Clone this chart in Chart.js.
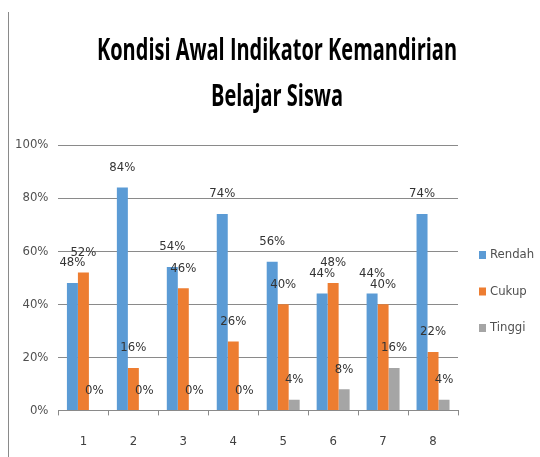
<!DOCTYPE html>
<html lang="en">
<head>
    <meta charset="UTF-8">
    <title>Kondisi Awal Indikator Kemandirian Belajar Siswa</title>
    <script src="https://cdn.jsdelivr.net/npm/chart.js"></script>
    <style>
        body {
          margin: 0;
          background: #ffffff;
        }
        .chartBox {
          position: relative;
          width: 540px;
          height: 457px;
        }
        .frame {
          position: absolute;
          left: 8px;
          top: 12px;
          bottom: 0;
          border-left: 1px solid #8a8a8a;
        }
    </style>
</head>
<body>
    <div class="chartBox">
        <div class="frame"></div>
        <canvas id="kemandirianChart"></canvas>
    </div>
    <script>
        // Data
        const categories = ['1', '2', '3', '4', '5', '6', '7', '8'];
        const rendah = [48, 84, 54, 74, 56, 44, 44, 74];
        const cukup  = [52, 16, 46, 26, 40, 48, 40, 22];
        const tinggi = [0, 0, 0, 0, 4, 8, 16, 4];
        const yTicks = [0, 20, 40, 60, 80, 100];
        const titleLines = ['Kondisi Awal Indikator Kemandirian', 'Belajar Siswa'];

        const narrow = "'Liberation Sans Narrow', 'DejaVu Sans Condensed', sans-serif";

        // Percentage label above every bar (Excel "outside end" style)
        const barLabels = {
            id: 'barLabels',
            afterDatasetsDraw(chart) {
                const ctx = chart.ctx;
                ctx.save();
                ctx.font = '13px ' + narrow;
                ctx.fillStyle = '#333333';
                ctx.textAlign = 'center';
                ctx.textBaseline = 'middle';
                chart.data.datasets.forEach((ds, i) => {
                    chart.getDatasetMeta(i).data.forEach((bar, j) => {
                        ctx.fillText(ds.data[j] + '%', bar.x, bar.y - 20);
                    });
                });
                ctx.restore();
            }
        };

        // Condensed two-line title, like the Calibri title of the original
        const narrowTitle = {
            id: 'narrowTitle',
            afterDraw(chart) {
                const ctx = chart.ctx;
                ctx.save();
                ctx.font = "bold 30px 'Open Sans', " + narrow;
                ctx.fillStyle = '#000000';
                ctx.textAlign = 'center';
                ctx.textBaseline = 'alphabetic';
                // squeeze the first line to the width it has in the original
                const squeeze = 360 / ctx.measureText(titleLines[0]).width;
                ctx.translate(277, 0);
                ctx.scale(squeeze, 1);
                titleLines.forEach((line, i) => ctx.fillText(line, 0, 60 + i * 46));
                ctx.restore();
            }
        };

        // Legend on the right, built from the datasets
        const sideLegend = {
            id: 'sideLegend',
            afterDraw(chart) {
                const ctx = chart.ctx;
                const area = chart.chartArea;
                ctx.save();
                ctx.font = '13px ' + narrow;
                ctx.textBaseline = 'middle';
                chart.data.datasets.forEach((ds, i) => {
                    const y = area.top + 110 + i * 36.5;
                    ctx.fillStyle = ds.backgroundColor;
                    ctx.fillRect(area.right + 21, y - 4, 7, 8);
                    ctx.fillStyle = '#505050';
                    ctx.fillText(ds.label, area.right + 32, y);
                });
                ctx.restore();
            }
        };

        const ctx = document.getElementById('kemandirianChart').getContext('2d');
        new Chart(ctx, {
            type: 'bar',
            data: {
                labels: categories,
                datasets: [
                    { label: 'Rendah', data: rendah, backgroundColor: '#5B9BD5' },
                    { label: 'Cukup', data: cukup, backgroundColor: '#ED7D31' },
                    { label: 'Tinggi', data: tinggi, backgroundColor: '#A5A5A5' }
                ]
            },
            options: {
                responsive: true,
                maintainAspectRatio: false,
                animation: false,
                categoryPercentage: 0.66,
                barPercentage: 1.0,
                layout: {
                    padding: { left: 5, right: 82, top: 145, bottom: -10 }
                },
                scales: {
                    x: {
                        grid: {
                            drawOnChartArea: false,
                            tickLength: 5,
                            color: '#8a8a8a'
                        },
                        border: { color: '#8a8a8a' },
                        ticks: {
                            padding: 18,
                            color: '#404040',
                            font: { family: narrow, size: 13 }
                        }
                    },
                    y: {
                        min: 0,
                        max: 100,
                        afterBuildTicks(axis) {
                            axis.ticks = yTicks.map(v => ({ value: v }));
                        },
                        grid: {
                            color: '#8a8a8a',
                            drawTicks: false
                        },
                        border: { display: false },
                        ticks: {
                            padding: 10,
                            color: '#505050',
                            font: { family: narrow, size: 13 },
                            callback: v => v + '%'
                        }
                    }
                },
                plugins: {
                    title: { display: false },
                    legend: { display: false },
                    tooltip: { enabled: false }
                }
            },
            plugins: [barLabels, narrowTitle, sideLegend]
        });
    </script>
</body>
</html>
